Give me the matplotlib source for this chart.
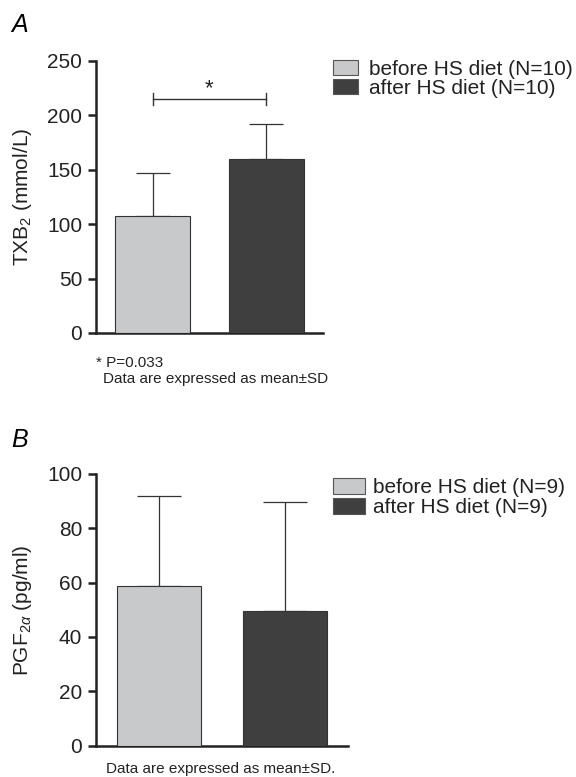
import numpy as np
import matplotlib
matplotlib.use("Agg")
import matplotlib.pyplot as plt
from matplotlib.patches import Patch

plt.rcParams['font.family'] = ['Liberation Sans', 'DejaVu Sans']
plt.rcParams['mathtext.fontset'] = 'custom'
plt.rcParams['mathtext.rm'] = 'Liberation Sans'
plt.rcParams['mathtext.it'] = 'Liberation Sans:italic'

# data
groups = ["before HS diet", "after HS diet"]
colors = ["#c8c9cb", "#3f3f3f"]

txb2_mean = [107.5, 160]
txb2_sd = [39, 31.5]
txb2_n = [10, 10]

pgf_mean = [58.8, 49.6]
pgf_sd = [33.2, 40.1]
pgf_n = [9, 9]

W, H = 576, 777
fig = plt.figure(figsize=(W / 100, H / 100), dpi=100)


def fx(px):
    return px / W


def fy(py):
    return 1 - py / H


def panel(rect, means, sds, ylim, yticks, ylabel, capsize):
    ax = fig.add_axes(rect)
    x = np.arange(len(means))
    ax.bar(x, means, width=0.66, color=colors, edgecolor="#333333", linewidth=0.8, zorder=3)
    ax.errorbar(x, means, yerr=[np.zeros(len(sds)), sds], fmt="none", ecolor="#333333",
                elinewidth=0.9, capsize=capsize, capthick=0.9, zorder=2)
    ax.set_xlim(-0.5, 1.5)
    ax.set_ylim(*ylim)
    ax.set_yticks(yticks)
    ax.set_xticks([])
    for s in ["top", "right"]:
        ax.spines[s].set_visible(False)
    for s in ["left", "bottom"]:
        ax.spines[s].set_linewidth(1.8)
        ax.spines[s].set_color("#222222")
    ax.tick_params(axis="y", direction="out", length=6, width=1.8, labelsize=15,
                   color="#222222", labelcolor="#222222", pad=4)
    ax.set_ylabel(ylabel, fontsize=15, color="#222222", va="center")
    ax.yaxis.set_label_coords((23 - rect[0] * W) / (rect[2] * W), 0.5)
    return ax


def legend(handles, top_px, hlen, hh, pad, spacing):
    fig.legend(handles=handles, loc="upper left", bbox_to_anchor=(fx(333), fy(top_px)),
               frameon=False, fontsize=15, handlelength=hlen, handleheight=hh,
               handletextpad=pad, labelspacing=spacing, borderaxespad=0, borderpad=0,
               labelcolor="#222222")


# panel A
axA = panel([fx(96), fy(333), fx(323 - 96), (333 - 60.7) / H], txb2_mean, txb2_sd,
            (0, 250), [0, 50, 100, 150, 200, 250], "TXB$_2$ (mmol/L)", 12)
axA.plot([0, 1], [214.6, 214.6], color="#333333", lw=1)
axA.plot([0, 0], [209, 220], color="#333333", lw=1)
axA.plot([1, 1], [209, 220], color="#333333", lw=1)
axA.text(0.5, 219.5, "*", ha="center", va="baseline", fontsize=16, color="#222222")
fig.text(fx(11), fy(25), "A", fontsize=18, style="italic", va="center")
fig.text(fx(96), fy(363), "* P=0.033", fontsize=11, va="center", color="#222222")
fig.text(fx(103), fy(379), "Data are expressed as mean\u00b1SD", fontsize=11,
         va="center", color="#222222")
handlesA = [Patch(facecolor=colors[i], edgecolor="#555555", linewidth=0.8,
                  label=f"{groups[i]} (N={txb2_n[i]})") for i in range(2)]
legend(handlesA, 60, 1.2, 0.7, 0.55, 0.0)

# panel B
axB = panel([fx(96), fy(745.5), fx(348 - 96), (745.5 - 474) / H], pgf_mean, pgf_sd,
            (0, 100), [0, 20, 40, 60, 80, 100], r"PGF$_{2\alpha}$ (pg/ml)", 15.5)
fig.text(fx(11), fy(440), "B", fontsize=18, style="italic", va="center")
fig.text(fx(221), fy(769), "Data are expressed as mean\u00b1SD.", fontsize=11,
         ha="center", va="center", color="#222222")
handlesB = [Patch(facecolor=colors[i], edgecolor="#555555", linewidth=0.8,
                  label=f"{groups[i]} (N={pgf_n[i]})") for i in range(2)]
legend(handlesB, 478, 1.55, 0.78, 0.35, 0.05)

fig.savefig("out.png", dpi=100)
